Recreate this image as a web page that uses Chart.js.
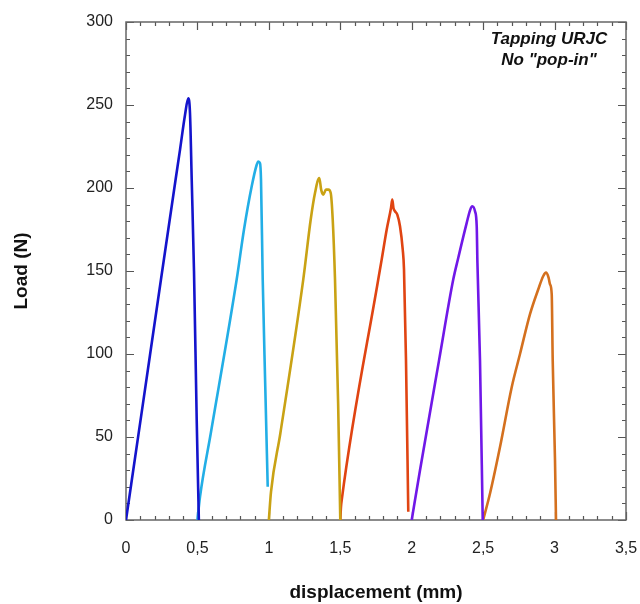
<!DOCTYPE html>
<html lang="en">
<head>
    <meta charset="UTF-8">
    <title>Tapping URJC - load vs displacement</title>
    <script src="https://cdn.jsdelivr.net/npm/chart.js"></script>
    <style>
        html, body { margin: 0; padding: 0; background: #fff; }
        #wrap { width: 640px; height: 604px; }
    </style>
</head>
<body>
    <div id="wrap"><canvas id="load-chart" width="640" height="604"></canvas></div>
    <script>
        // six tapping runs, displacement (mm) vs load (N)
        const run1X = [0, 0.11, 0.245, 0.347, 0.378, 0.413, 0.436, 0.448, 0.46, 0.476, 0.495, 0.51];
        const run1Y = [0, 65, 145, 205, 223, 244, 254, 245, 205, 150, 60, 0];

        const run2X = [0.5, 0.518, 0.595, 0.775, 0.826, 0.88, 0.915, 0.926, 0.938, 0.945, 0.957, 0.975, 0.992];
        const run2Y = [0, 14, 53, 145, 175, 201, 214, 216, 215, 205, 145, 80, 20];

        const run3X = [1.0, 1.015, 1.08, 1.241, 1.293, 1.323, 1.353, 1.366, 1.381, 1.4, 1.416, 1.433, 1.447, 1.463, 1.485, 1.5];
        const run3Y = [0, 17, 52, 145, 181, 197, 206, 199, 196, 199, 199, 197, 181, 145, 70, 0];

        const run4X = [1.5, 1.505, 1.51, 1.766, 1.79, 1.825, 1.855, 1.864, 1.872, 1.883, 1.899, 1.918, 1.937, 1.946, 1.96, 1.976];
        const run4Y = [0, 8, 12, 145, 157, 175, 188, 193, 188, 186, 184, 177, 163, 151, 96, 5];

        const run5X = [2.0, 2.058, 2.191, 2.291, 2.326, 2.385, 2.41, 2.424, 2.443, 2.455, 2.46, 2.478, 2.497];
        const run5Y = [0, 30, 96, 145, 158, 179, 187, 189, 186, 177, 155, 96, 0];

        const run6X = [2.5, 2.548, 2.618, 2.7, 2.758, 2.828, 2.886, 2.921, 2.94, 2.958, 2.968, 2.98, 2.987, 3.003, 3.01];
        const run6Y = [0, 16, 44, 80, 100, 124, 139, 147, 149, 146, 142, 136, 96, 36, 0];

        const runColors = ['#1414cc', '#22aee6', '#c9a214', '#e04412', '#7018e8', '#d4701e'];

        const xTicks = [0, 0.5, 1, 1.5, 2, 2.5, 3, 3.5];
        const yTicks = [0, 50, 100, 150, 200, 250, 300];
        const noteLines = ['Tapping URJC', 'No "pop-in"'];

        const runs = [[run1X, run1Y], [run2X, run2Y], [run3X, run3Y], [run4X, run4Y], [run5X, run5Y], [run6X, run6Y]];
        const FONT = '"Liberation Sans", Arial, sans-serif';

        // frame with inward ticks on all four sides (major + minor)
        const frameTicks = {
            id: 'frameTicks',
            beforeDatasetsDraw(chart) {
                const {ctx, chartArea: a, scales: {x, y}} = chart;
                ctx.save();
                ctx.strokeStyle = '#555';
                ctx.lineWidth = 1.2;
                for (let i = 0; i <= 35; i++) {
                    const px = Math.round(x.getPixelForValue(i / 10)) + 0.5;
                    const len = i % 5 === 0 ? 8 : 4;
                    ctx.beginPath();
                    ctx.moveTo(px, a.bottom); ctx.lineTo(px, a.bottom - len);
                    ctx.moveTo(px, a.top); ctx.lineTo(px, a.top + len);
                    ctx.stroke();
                }
                for (let i = 0; i <= 30; i++) {
                    const py = Math.round(y.getPixelForValue(i * 10)) + 0.5;
                    const len = i % 5 === 0 ? 8 : 4;
                    ctx.beginPath();
                    ctx.moveTo(a.left, py); ctx.lineTo(a.left + len, py);
                    ctx.moveTo(a.right, py); ctx.lineTo(a.right - len, py);
                    ctx.stroke();
                }
                ctx.strokeStyle = '#666';
                ctx.lineWidth = 1.5;
                ctx.strokeRect(a.left, a.top, a.right - a.left, a.bottom - a.top);
                ctx.restore();
            },
            afterDraw(chart) {
                const {ctx} = chart;
                ctx.save();
                ctx.fillStyle = '#111';
                ctx.font = 'italic bold 17px ' + FONT;
                ctx.textAlign = 'center';
                ctx.textBaseline = 'middle';
                noteLines.forEach((t, i) => ctx.fillText(t, 549, 39 + i * 21));
                ctx.restore();
            }
        };

        const noPad = s => { s.paddingLeft = 0; s.paddingRight = 0; s.paddingTop = 0; s.paddingBottom = 0; };

        new Chart(document.getElementById('load-chart'), {
            type: 'scatter',
            data: {
                datasets: runs.map(([xs, ys], i) => ({
                    label: 'run ' + (i + 1),
                    data: xs.map((v, j) => ({x: v, y: ys[j]})),
                    showLine: true,
                    borderColor: runColors[i],
                    borderWidth: 2.6,
                    pointRadius: 0,
                    cubicInterpolationMode: 'monotone',
                    fill: false
                }))
            },
            options: {
                responsive: false,
                animation: false,
                layout: {padding: {top: 22, right: 14, left: 0, bottom: 0}},
                plugins: {legend: {display: false}, tooltip: {enabled: false}},
                scales: {
                    x: {
                        type: 'linear', min: 0, max: 3.5,
                        afterBuildTicks: s => { s.ticks = xTicks.map(v => ({value: v})); },
                        afterFit: s => { s.height = 84; noPad(s); },
                        grid: {display: false, drawTicks: false},
                        border: {display: false},
                        ticks: {
                            padding: 19, color: '#222', maxRotation: 0,
                            font: {family: FONT, size: 16},
                            callback: v => String(v).replace('.', ',')
                        },
                        title: {
                            display: true, text: 'displacement (mm)', color: '#111',
                            font: {family: FONT, size: 19, weight: 'bold'},
                            padding: {top: 0, bottom: 0}
                        }
                    },
                    y: {
                        type: 'linear', min: 0, max: 300,
                        afterBuildTicks: s => { s.ticks = yTicks.map(v => ({value: v})); },
                        afterFit: s => { s.width = 126; noPad(s); },
                        grid: {display: false, drawTicks: false},
                        border: {display: false},
                        ticks: {
                            padding: 13, color: '#222',
                            font: {family: FONT, size: 16}
                        },
                        title: {
                            display: true, text: 'Load (N)', color: '#111',
                            font: {family: FONT, size: 19, weight: 'bold'},
                            padding: {top: 10, bottom: 0}
                        }
                    }
                }
            },
            plugins: [frameTicks]
        });
    </script>
</body>
</html>
